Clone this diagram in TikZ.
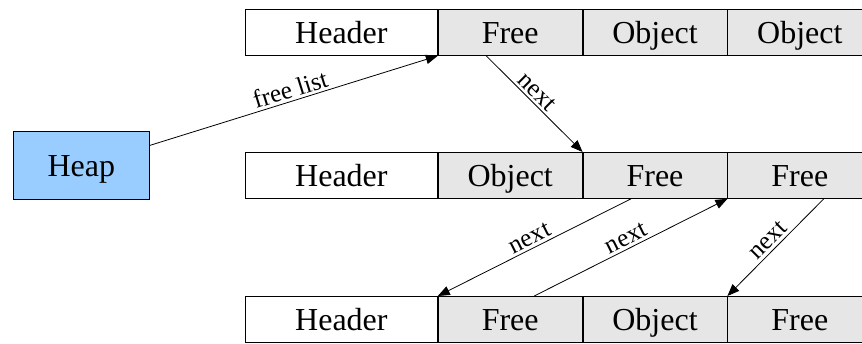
\documentclass[tikz,border=0pt]{standalone}
\usepackage{fontspec}
\setmainfont{Liberation Serif}
\usetikzlibrary{arrows.meta}
\definecolor{heapblue}{HTML}{99CCFF}
\definecolor{slotgray}{HTML}{E6E6E6}
\begin{document}
\begin{tikzpicture}[x=0.75pt,y=-0.75pt,
    cell/.style={draw,line width=0.6pt,minimum height=34.5pt,inner sep=0pt,anchor=north west,
      text height=19pt,text depth=3pt,font=\fontsize{24}{28}\selectfont},
    hdr/.style={cell,fill=white,minimum width=144pt},
    slot/.style={cell,fill=slotgray,minimum width=108pt},
    link/.style={-{Triangle[length=9pt,width=7pt]},line width=0.6pt},
    lbl/.style={sloped,above,inner sep=2pt,font=\fontsize{19}{22}\selectfont}]
  \useasboundingbox (0,0) rectangle (862,343);
  \node[cell,fill=heapblue,minimum width=102pt,minimum height=51pt] (heap) at (13,131) {Heap};
  % first block
  \node[hdr] (h1) at (245,9) {Header};
  \node[slot] (a1) at (h1.north east) {Free};
  \node[slot] (b1) at (a1.north east) {Object};
  \node[slot] (c1) at (b1.north east) {Object};
  % second block
  \node[hdr] (h2) at (245,152) {Header};
  \node[slot] (a2) at (h2.north east) {Object};
  \node[slot] (b2) at (a2.north east) {Free};
  \node[slot] (c2) at (b2.north east) {Free};
  % third block
  \node[hdr] (h3) at (245,296) {Header};
  \node[slot] (a3) at (h3.north east) {Free};
  \node[slot] (b3) at (a3.north east) {Object};
  \node[slot] (c3) at (b3.north east) {Free};
  % links
  \draw[link] ([yshift=15pt]heap.east) -- node[lbl] {free list} (a1.south west);
  \draw[link] ([xshift=-18pt]a1.south) -- node[lbl,pos=0.45] {next} (b2.north west);
  \draw[link] ([xshift=-18pt]b2.south) -- node[lbl] {next} (a3.north west);
  \draw[link] ([xshift=18pt]a3.north) -- node[lbl] {next} (c2.south west);
  \draw[link] ([xshift=18pt]c2.south) -- node[lbl] {next} (c3.north west);
\end{tikzpicture}
\end{document}
